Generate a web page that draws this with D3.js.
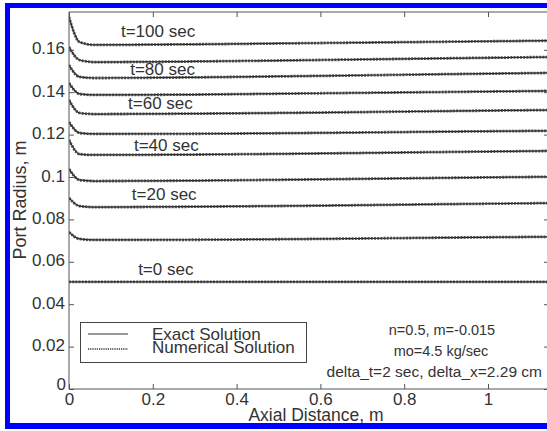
<!DOCTYPE html>
<html><head><meta charset="utf-8">
<script src="https://cdn.jsdelivr.net/npm/d3@7/dist/d3.min.js"></script>
<style>html,body{margin:0;padding:0;background:#fff;overflow:hidden}</style>
</head><body>
<svg id="c" width="547" height="431"></svg>
<script>
// ---- data ----
const axialX = [0, 0.025, 0.06, 0.3, 0.6, 0.9, 1.15];
const radius_t0   = [0.0505, 0.0505, 0.0505, 0.0505, 0.0505, 0.0505, 0.0505];
const radius_t10  = [0.0740, 0.0708, 0.0703, 0.0704, 0.0708, 0.0714, 0.0718];
const radius_t20  = [0.0901, 0.0863, 0.0858, 0.0860, 0.0865, 0.0872, 0.0877];
const radius_t30  = [0.1038, 0.0986, 0.0981, 0.0983, 0.0989, 0.0996, 0.1001];
const radius_t40  = [0.1175, 0.1108, 0.1104, 0.1106, 0.1111, 0.1118, 0.1123];
const radius_t50  = [0.1259, 0.1208, 0.1203, 0.1204, 0.1208, 0.1214, 0.1218];
const radius_t60  = [0.1363, 0.1302, 0.1297, 0.1299, 0.1304, 0.1311, 0.1316];
const radius_t70  = [0.1443, 0.1392, 0.1387, 0.1389, 0.1395, 0.1401, 0.1406];
const radius_t80  = [0.1528, 0.1472, 0.1467, 0.1470, 0.1477, 0.1485, 0.1491];
const radius_t90  = [0.1613, 0.1552, 0.1542, 0.1545, 0.1552, 0.1560, 0.1566];
const radius_t100 = [0.1755, 0.1637, 0.1623, 0.1626, 0.1632, 0.1638, 0.1643];
const seriesList = [radius_t0, radius_t10, radius_t20, radius_t30, radius_t40, radius_t50,
                    radius_t60, radius_t70, radius_t80, radius_t90, radius_t100];
const curveLabels = ["t=0 sec", "t=20 sec", "t=40 sec", "t=60 sec", "t=80 sec", "t=100 sec"];
const xTicks = [0, 0.2, 0.4, 0.6, 0.8, 1];
const xTickLabels = ["0", "0.2", "0.4", "0.6", "0.8", "1"];
const yTicks = [0, 0.02, 0.04, 0.06, 0.08, 0.1, 0.12, 0.14, 0.16];
const yTickLabels = ["0", "0.02", "0.04", "0.06", "0.08", "0.1", "0.12", "0.14", "0.16"];
const legendLabels = ["Exact Solution", "Numerical Solution"];
const noteLines = ["n=0.5, m=-0.015", "mo=4.5 kg/sec", "delta_t=2 sec, delta_x=2.29 cm"];
const xTitle = "Axial Distance, m";
const yTitle = "Port Radius, m";

// ---- drawing ----
const svg = d3.select("#c");
const L = 69, R = 549, T = 12, B = 389;
const x = d3.scaleLinear().domain([0, (R - L) / 419]).range([L, R]);
const y = d3.scaleLinear().domain([0, (B - T) / 2120]).range([B, T]);
const font = "'Liberation Sans', Arial, Helvetica, sans-serif";
const txt = "#333";

svg.append("rect").attr("width", 547).attr("height", 431).attr("fill", "#fff");

const clip = svg.append("clipPath").attr("id", "pc");
clip.append("rect").attr("x", L).attr("y", T).attr("width", R - L).attr("height", B - T);

const line = d3.line().x((d, i) => x(axialX[i])).y(d => y(d)).curve(d3.curveMonotoneX);
const g = svg.append("g").attr("clip-path", "url(#pc)");
seriesList.forEach(s => {
  g.append("path").attr("d", line(s)).attr("fill", "none")
    .attr("stroke", "#1a1a1a").attr("stroke-width", 1.2);
  g.append("path").attr("d", line(s)).attr("fill", "none")
    .attr("stroke", "#3a3a3a").attr("stroke-width", 2.8)
    .attr("stroke-dasharray", "2,1.2").attr("opacity", 0.85);
});

// axes
const axCol = "#555";
const axG = svg.append("g");
axG.append("line").attr("x1", L).attr("x2", R).attr("y1", B).attr("y2", B).attr("stroke", axCol);
axG.append("line").attr("x1", L).attr("x2", R).attr("y1", T).attr("y2", T).attr("stroke", axCol);
axG.append("line").attr("x1", L).attr("x2", L).attr("y1", T).attr("y2", B).attr("stroke", axCol);
axG.append("line").attr("x1", R).attr("x2", R).attr("y1", T).attr("y2", B).attr("stroke", axCol);

const xb = d3.axisBottom(x).tickValues(xTicks).tickSize(-5).tickPadding(0).tickFormat((d, i) => xTickLabels[i]);
const xa = svg.append("g").attr("transform", `translate(0,${B})`).call(xb);
xa.select(".domain").remove();
xa.selectAll("line").attr("stroke", axCol);
xa.selectAll("text").attr("y", 16).attr("dy", 0).attr("font-family", font).attr("font-size", 17).attr("fill", txt);

const xt = d3.axisTop(x).tickValues(xTicks).tickSize(-5).tickFormat("");
const xta = svg.append("g").attr("transform", `translate(0,${T})`).call(xt);
xta.select(".domain").remove();
xta.selectAll("line").attr("stroke", axCol);

const yl = d3.axisLeft(y).tickValues(yTicks).tickSize(-5).tickPadding(0).tickFormat((d, i) => yTickLabels[i]);
const ya = svg.append("g").attr("transform", `translate(${L},0)`).call(yl);
ya.select(".domain").remove();
ya.selectAll("line").attr("stroke", axCol);
ya.selectAll("text").attr("x", -4).attr("dy", 4).attr("font-family", font).attr("font-size", 17).attr("fill", txt);
ya.selectAll(".tick").filter(d => d === 0).select("text").attr("x", -3).attr("dy", 0);

const yr = d3.axisRight(y).tickValues(yTicks).tickSize(-5).tickFormat("");
const yra = svg.append("g").attr("transform", `translate(${R},0)`).call(yr);
yra.select(".domain").remove();
yra.selectAll("line").attr("stroke", axCol);

// axis titles
svg.append("text").attr("x", 316).attr("y", 421).attr("text-anchor", "middle")
  .attr("font-family", font).attr("font-size", 17.5).attr("fill", txt).text(xTitle);
svg.append("text").attr("transform", "translate(26,200) rotate(-90)").attr("text-anchor", "middle")
  .attr("font-family", font).attr("font-size", 18).attr("fill", txt).text(yTitle);

// curve labels (positions in data units)
const labelPos = [[0.165, 0.0538], [0.150, 0.0892], [0.155, 0.1123], [0.141, 0.1321], [0.146, 0.1481], [0.124, 0.1660]];
curveLabels.forEach((t, i) => {
  svg.append("text").attr("x", x(labelPos[i][0])).attr("y", y(labelPos[i][1]))
    .attr("font-family", font).attr("font-size", 17).attr("fill", txt).text(t);
});

// legend
const lg = svg.append("g");
lg.append("rect").attr("x", 80.5).attr("y", 322.5).attr("width", 226).attr("height", 40)
  .attr("fill", "#fff").attr("stroke", "#444").attr("stroke-width", 1);
lg.append("line").attr("x1", 88).attr("x2", 128).attr("y1", 334).attr("y2", 334)
  .attr("stroke", "#333").attr("stroke-width", 1);
lg.append("line").attr("x1", 88).attr("x2", 128).attr("y1", 349).attr("y2", 349)
  .attr("stroke", "#333").attr("stroke-width", 1.4).attr("stroke-dasharray", "1.2,1");
legendLabels.forEach((t, i) => {
  lg.append("text").attr("x", 152).attr("y", 340 + i * 13)
    .attr("font-family", font).attr("font-size", 17).attr("fill", txt).text(t);
});

// notes
svg.append("text").attr("x", 442).attr("y", 335).attr("text-anchor", "middle")
  .attr("font-family", font).attr("font-size", 14.5).attr("fill", txt).text(noteLines[0]);
svg.append("text").attr("x", 441).attr("y", 356).attr("text-anchor", "middle")
  .attr("font-family", font).attr("font-size", 14.5).attr("fill", txt).text(noteLines[1]);
svg.append("text").attr("x", 542).attr("y", 377).attr("text-anchor", "end")
  .attr("font-family", font).attr("font-size", 15.5).attr("fill", txt).text(noteLines[2]);

// blue frame
const blue = "#0000ff";
svg.append("rect").attr("x", 5).attr("y", 3).attr("width", 542).attr("height", 5).attr("fill", blue);
svg.append("rect").attr("x", 5).attr("y", 3).attr("width", 5).attr("height", 426).attr("fill", blue);
svg.append("rect").attr("x", 5).attr("y", 423).attr("width", 542).attr("height", 6).attr("fill", blue);
</script>
</body></html>
